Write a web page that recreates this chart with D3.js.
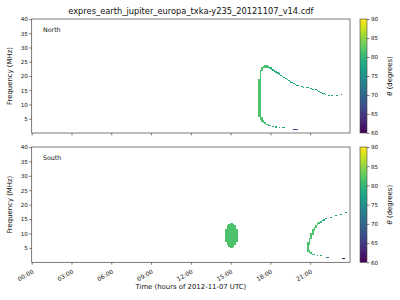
<!DOCTYPE html>
<html><head><meta charset="utf-8">
<script src="https://cdn.jsdelivr.net/npm/d3@7"></script>
<style>body{margin:0;background:#fff}svg{display:block}text{font-family:"DejaVu Sans",sans-serif;fill:#111}</style>
</head><body><svg id="c" width="400" height="300"></svg>
<script>
const titleText = "expres_earth_jupiter_europa_txka-y235_20121107_v14.cdf";
const hourTicks = [0,3,6,9,12,15,18,21];
const hourLabels = ["00:00","03:00","06:00","09:00","12:00","15:00","18:00","21:00"];
const freqTicks = [5,10,15,20,25,30,35,40];
const thetaTicks = [60,65,70,75,80,85,90];
const panelNames = ["North","South"];

// North: time (h, start of sample), freq low/high (MHz), theta (deg)
const nT  = [17.06,17.18,17.30,17.42,17.54,17.66,17.78,17.90,18.02,18.14,18.26,18.38,18.50,18.62,18.74,18.86,18.98,19.10,19.22,19.34,19.46,19.58,19.70,19.82,19.94,20.06,20.30,20.42,20.66,20.78,21.02,21.14,21.38,21.50,21.62,21.74,21.86,21.98,22.10,22.34,22.58,22.94,23.30,
             17.30,17.42,17.54,17.66,17.78,17.90,18.14,18.38,18.62,18.86,18.98,19.70,19.82,19.94];
const nLo = [5.6,4.6,21.8,22.7,22.9,22.9,22.8,22.6,22.2,21.9,21.5,21.2,20.8,20.5,20.1,19.7,19.3,18.9,18.5,18.1,17.7,17.4,17.1,16.9,16.6,16.4,16.1,16.0,15.8,15.7,15.4,15.3,15.0,14.8,14.5,14.2,13.9,13.6,13.4,13.1,12.9,12.9,13.5,
             4.0,3.5,3.0,2.8,2.6,2.4,2.1,1.9,1.8,1.7,1.7,1.2,1.2,1.2];
const nHi = [18.9,22.0,23.3,23.6,23.7,23.7,23.6,23.3,23.0,22.5,22.1,21.7,21.3,20.9,20.5,20.1,19.7,19.3,18.9,18.5,18.1,17.8,17.5,17.2,16.9,16.7,16.4,16.3,16.1,16.0,15.7,15.6,15.3,15.1,14.8,14.5,14.2,13.9,13.7,13.4,13.2,13.2,13.8,
             5.6,4.5,3.8,3.3,3.0,2.8,2.5,2.3,2.1,2.0,2.0,1.5,1.5,1.5];
const nTh = [81.5,81.5,81.5,81.5,81.5,81,80.5,80,79.5,79,78.5,78,78,77.5,77.5,77.5,77.5,77.5,77.5,77.5,77.5,77.5,77.5,77.5,77.5,77.5,77.5,77.5,77.5,77.5,77.5,77.5,77,77,77,77,77,77,77,77,76.5,75.5,72.5,
             81.5,81.5,81.5,81.5,81,80,79,78,77.5,77,77,67.5,67.5,67.5];

// South
const sT  = [14.57,14.69,14.81,14.93,15.05,15.17,15.29,15.41,
             20.78,20.90,21.02,21.14,21.26,21.38,21.50,21.62,21.74,21.86,21.98,22.12,22.50,22.88,23.26,23.64,
             20.90,21.02,21.14,21.26,21.50,21.74,22.16,22.28,23.36,23.48];
const sLo = [7.1,6.0,5.4,5.1,5.1,5.4,6.0,7.1,
             3.5,6.0,8.0,9.6,10.9,11.9,12.8,13.4,13.8,14.2,14.5,15.0,15.5,16.0,16.6,17.2,
             3.2,2.8,2.6,2.4,2.2,2.1,1.7,1.7,1.3,1.3];
const sHi = [11.7,12.8,13.4,13.7,13.7,13.4,12.8,11.7,
             7.0,8.6,10.2,11.4,12.3,13.0,13.6,14.0,14.4,14.7,15.0,15.3,15.8,16.3,16.9,17.5,
             4.2,3.4,3.0,2.8,2.5,2.4,2.0,2.0,1.6,1.6];
const sTh = [81.5,81.5,81.5,81.5,81.5,81.5,81.5,81.5,
             81.5,81.5,81.5,81.5,81.5,81.5,81,80.5,80,79,78,77.5,77,76.5,75.5,74.5,
             81.5,81,80,79,77,76.5,70,70,61,61];

const DT = 0.12;
const svg = d3.select("#c");
const X0 = 31.7, X1 = 350;
const panels = [{top:19,bottom:133,T:nT,Lo:nLo,Hi:nHi,Th:nTh},{top:147,bottom:262.3,T:sT,Lo:sLo,Hi:sHi,Th:sTh}];
const x = d3.scaleLinear().domain([0,24]).range([X0,X1]);
const color = d3.scaleSequential(d3.interpolateViridis).domain([60,90]);

svg.append("text").attr("x",(X0+X1)/2).attr("y",13.5).attr("text-anchor","middle").attr("font-size",8.3).text(titleText);

const grad = svg.append("defs").append("linearGradient").attr("id","vir").attr("x1",0).attr("y1",1).attr("x2",0).attr("y2",0);
d3.range(0,1.0001,0.05).forEach(s=>grad.append("stop").attr("offset",s).attr("stop-color",d3.interpolateViridis(s)));

panels.forEach((p,pi)=>{
  const y = d3.scaleLinear().domain([0,40]).range([p.bottom,p.top]);
  const g = svg.append("g");
  g.selectAll("rect.d").data(p.T.map((t,i)=>i)).join("rect")
    .attr("x",i=>x(p.T[i])).attr("width",i=>x(p.T[i]+DT)-x(p.T[i]))
    .attr("y",i=>y(p.Hi[i])).attr("height",i=>Math.max(1,y(p.Lo[i])-y(p.Hi[i])))
    .attr("fill",i=>color(p.Th[i])).attr("shape-rendering","crispEdges");
  g.append("rect").attr("x",X0).attr("y",p.top).attr("width",X1-X0).attr("height",p.bottom-p.top)
    .attr("fill","none").attr("stroke","#444").attr("stroke-width",0.7);
  const ya = g.append("g").attr("transform",`translate(${X0},0)`)
    .call(d3.axisLeft(y).tickValues(freqTicks).tickSize(2.4).tickPadding(1.5));
  ya.select(".domain").remove();
  ya.selectAll("line").attr("stroke","#444").attr("stroke-width",0.7);
  ya.selectAll("text").attr("font-size",5.6).attr("font-family","DejaVu Sans").attr("fill","#222");
  const xa = g.append("g").attr("transform",`translate(0,${p.bottom})`)
    .call(d3.axisBottom(x).tickValues(hourTicks).tickSize(2.4).tickFormat((d,i)=>pi===1?hourLabels[i]:""));
  xa.select(".domain").remove();
  xa.selectAll("line").attr("stroke","#444").attr("stroke-width",0.7);
  if(pi===1){
    xa.selectAll("text").attr("font-size",6).attr("font-family","DejaVu Sans").attr("fill","#222")
      .attr("text-anchor","end").attr("dy",0).attr("y",0)
      .attr("transform","translate(2,10.5) rotate(-30)");
  }
  g.append("text").attr("x",43).attr("y",p.top+12.5).attr("font-size",6.3).text(panelNames[pi]);
  g.append("text").attr("transform",`translate(12,${(p.top+p.bottom)/2}) rotate(-90)`)
    .attr("text-anchor","middle").attr("font-size",6.9).text("Frequency (MHz)");
  const cy = d3.scaleLinear().domain([60,90]).range([p.bottom,p.top]);
  g.append("rect").attr("x",360).attr("y",p.top).attr("width",7).attr("height",p.bottom-p.top)
    .attr("fill","url(#vir)").attr("stroke","#444").attr("stroke-width",0.6);
  const ca = g.append("g").attr("transform","translate(367,0)")
    .call(d3.axisRight(cy).tickValues(thetaTicks).tickSize(2.4).tickPadding(1.5));
  ca.select(".domain").remove();
  ca.selectAll("line").attr("stroke","#444").attr("stroke-width",0.7);
  ca.selectAll("text").attr("font-size",5.6).attr("font-family","DejaVu Sans").attr("fill","#222");
  const lab = g.append("text").attr("transform",`translate(392,${(p.top+p.bottom)/2}) rotate(-90)`)
    .attr("text-anchor","middle").attr("font-size",6.9);
  lab.append("tspan").attr("font-style","italic").text("θ");
  lab.append("tspan").text(" (degrees)");
});
svg.append("text").attr("x",(X0+X1)/2).attr("y",289).attr("text-anchor","middle").attr("font-size",6.9)
  .text("Time (hours of 2012-11-07 UTC)");
</script></body></html>
